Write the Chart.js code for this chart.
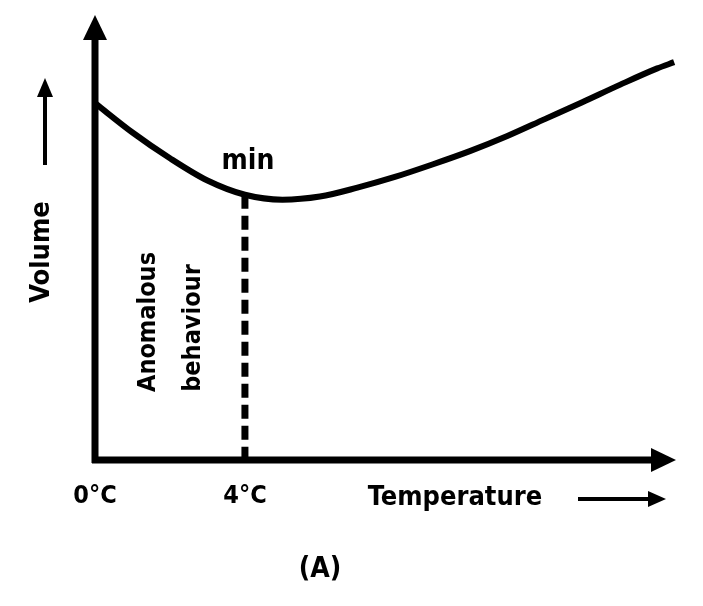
<!DOCTYPE html>
<html>
<head>
<meta charset="utf-8">
<script src="https://cdn.jsdelivr.net/npm/chart.js@4/dist/chart.umd.min.js"></script>
<style>
  html, body { margin: 0; padding: 0; background: #fff; }
  canvas { display: block; }
</style>
</head>
<body>
<canvas id="chart" width="703" height="606"></canvas>
<script>
// temperature (°C) and volume (arbitrary units)
const temps   = [0, 1, 2, 3, 4, 5, 6, 7, 8, 9, 10, 11, 12, 13, 14, 15, 15.45];
const volumes = [80.2, 73.6, 67.8, 62.8, 59.6, 58.5, 59.2, 61.2, 63.6, 66.4, 69.4, 72.8, 76.6, 80.4, 84.3, 88.0, 89.4];
const minTemp = 4;
const tickTemps = [0, 4];
const tickLabels = ["0°C", "4°C"];
const FONT = "'DejaVu Sans Condensed', 'DejaVu Sans', sans-serif";

const curve = temps.map((t, i) => ({ x: t, y: volumes[i] }));
const minIdx = temps.indexOf(minTemp);
const dashed = [{ x: minTemp, y: volumes[minIdx] }, { x: minTemp, y: 0 }];

// axes with arrow heads + all the annotation text
const decorations = {
    id: "decorations",
    afterDatasetsDraw(chart) {
        const ctx = chart.ctx;
        const xs = chart.scales.x, ys = chart.scales.y;
        const x0 = xs.getPixelForValue(0), y0 = ys.getPixelForValue(0);
        const right = chart.chartArea.right, top = chart.chartArea.top;
        ctx.save();
        ctx.fillStyle = "#000";
        ctx.strokeStyle = "#000";
        ctx.lineWidth = 7;
        ctx.lineCap = "butt";
        // axis lines
        ctx.beginPath();
        ctx.moveTo(x0, y0 + 3);
        ctx.lineTo(x0, top + 20);
        ctx.moveTo(x0 - 3, y0);
        ctx.lineTo(right - 20, y0);
        ctx.stroke();
        // arrow heads
        ctx.beginPath();
        ctx.moveTo(x0, top);
        ctx.lineTo(x0 - 12, top + 25);
        ctx.lineTo(x0 + 12, top + 25);
        ctx.closePath();
        ctx.fill();
        ctx.beginPath();
        ctx.moveTo(right, y0);
        ctx.lineTo(right - 25, y0 - 12);
        ctx.lineTo(right - 25, y0 + 12);
        ctx.closePath();
        ctx.fill();

        // tick labels
        ctx.font = "bold 25px " + FONT;
        ctx.textAlign = "center";
        ctx.textBaseline = "middle";
        tickTemps.forEach((t, i) => ctx.fillText(tickLabels[i], xs.getPixelForValue(t), y0 + 36));

        // Temperature label + arrow
        ctx.font = "bold 27px " + FONT;
        ctx.fillText("Temperature", 455, y0 + 38);
        ctx.lineWidth = 4;
        ctx.beginPath();
        ctx.moveTo(578, y0 + 39);
        ctx.lineTo(650, y0 + 39);
        ctx.stroke();
        ctx.beginPath();
        ctx.moveTo(666, y0 + 39);
        ctx.lineTo(648, y0 + 31);
        ctx.lineTo(648, y0 + 47);
        ctx.closePath();
        ctx.fill();

        // Volume label + arrow
        ctx.save();
        ctx.translate(42, 252);
        ctx.rotate(-Math.PI / 2);
        ctx.fillText("Volume", 0, 0);
        ctx.restore();
        ctx.beginPath();
        ctx.moveTo(45, 165);
        ctx.lineTo(45, 95);
        ctx.stroke();
        ctx.beginPath();
        ctx.moveTo(45, 78);
        ctx.lineTo(37, 97);
        ctx.lineTo(53, 97);
        ctx.closePath();
        ctx.fill();

        // min label
        ctx.font = "bold 28px " + FONT;
        ctx.fillText("min", 248, 162);

        // Anomalous behaviour
        ctx.font = "bold 25px " + FONT;
        ctx.save();
        ctx.translate(148, 322);
        ctx.rotate(-Math.PI / 2);
        ctx.fillText("Anomalous", 0, 0);
        ctx.restore();
        ctx.save();
        ctx.translate(193, 328);
        ctx.rotate(-Math.PI / 2);
        ctx.fillText("behaviour", 0, 0);
        ctx.restore();

        // caption
        ctx.font = "bold 28px " + FONT;
        ctx.fillText("(A)", 320, 570);
        ctx.restore();
    }
};

new Chart(document.querySelector("#chart").getContext("2d"), {
    type: "line",
    data: {
        datasets: [
            {
                data: curve,
                borderColor: "#000",
                borderWidth: 6,
                cubicInterpolationMode: "monotone",
                pointRadius: 0,
                fill: false
            },
            {
                data: dashed,
                borderColor: "#000",
                borderWidth: 7,
                borderDash: [14, 7],
                borderCapStyle: "butt",
                pointRadius: 0,
                tension: 0
            }
        ]
    },
    options: {
        responsive: false,
        animation: false,
        layout: { padding: { left: 95, right: 27, top: 15, bottom: 146 } },
        plugins: { legend: { display: false }, tooltip: { enabled: false } },
        scales: {
            x: { type: "linear", min: 0, max: 15.5, display: false },
            y: { type: "linear", min: 0, max: 100, display: false }
        }
    },
    plugins: [decorations]
});
</script>
</body>
</html>
